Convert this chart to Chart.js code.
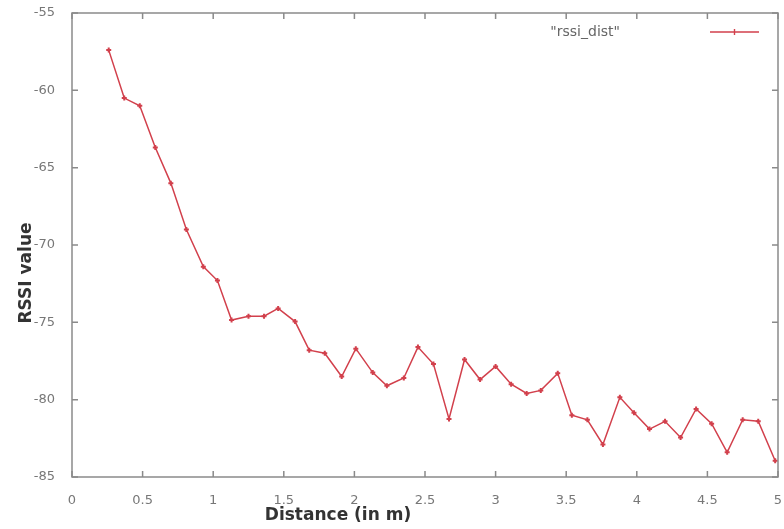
<!DOCTYPE html>
<html>
<head>
<meta charset="utf-8">
<script src="https://cdn.jsdelivr.net/npm/chart.js@4.4.1/dist/chart.umd.min.js"></script>
<style>
	html, body { margin: 0; padding: 0; background: #fff; }
	#wrap { width: 784px; height: 529px; }
</style>
</head>
<body>
<div id="wrap"><canvas id="myChart"></canvas></div>
<script>
const distances = [0.26, 0.37, 0.48, 0.59, 0.70, 0.81, 0.93, 1.03, 1.13, 1.25, 1.36, 1.46, 1.58, 1.68, 1.79, 1.91, 2.01, 2.13, 2.23, 2.35, 2.45, 2.56, 2.67, 2.78, 2.89, 3.00, 3.11, 3.22, 3.32, 3.44, 3.54, 3.65, 3.76, 3.88, 3.98, 4.09, 4.20, 4.31, 4.42, 4.53, 4.64, 4.75, 4.86, 4.98];
const rssi = [-57.4, -60.5, -61.0, -63.7, -66.0, -69.0, -71.4, -72.3, -74.85, -74.6, -74.6, -74.1, -74.95, -76.8, -77.0, -78.5, -76.7, -78.25, -79.1, -78.6, -76.6, -77.7, -81.25, -77.4, -78.7, -77.85, -79.0, -79.6, -79.4, -78.3, -81.0, -81.3, -82.9, -79.85, -80.85, -81.9, -81.4, -82.45, -80.6, -81.55, -83.4, -81.3, -81.4, -83.95];
const seriesName = '"rssi_dist"';
const xTitle = "Distance (in m)";
const yTitle = "RSSI value";

const lineColor = "#d2404c";
const frameColor = "#8a8a8a";
const ctx = document.getElementById("myChart");

// gnuplot style box with inward ticks on all four sides, titles and key
const framePlugin = {
	id: "frame",
	afterDraw(chart) {
		const c = chart.ctx;
		const a = chart.chartArea;
		const xs = chart.scales.x;
		const ys = chart.scales.y;
		c.save();
		c.strokeStyle = frameColor;
		c.lineWidth = 1.5;
		c.strokeRect(a.left, a.top, a.right - a.left, a.bottom - a.top);
		c.beginPath();
		xs.ticks.forEach((t) => {
			const px = xs.getPixelForValue(t.value);
			c.moveTo(px, a.bottom);
			c.lineTo(px, a.bottom - 6);
			c.moveTo(px, a.top);
			c.lineTo(px, a.top + 6);
		});
		ys.ticks.forEach((t) => {
			const py = ys.getPixelForValue(t.value);
			c.moveTo(a.left, py);
			c.lineTo(a.left + 6, py);
			c.moveTo(a.right, py);
			c.lineTo(a.right - 6, py);
		});
		c.stroke();

		c.fillStyle = "#333";
		c.font = "bold 17px 'DejaVu Sans'";
		c.textAlign = "center";
		c.textBaseline = "middle";
		c.fillText(xTitle, 338, 516);
		c.translate(27, 273);
		c.rotate(-Math.PI / 2);
		c.fillText(yTitle, 0, 0);
		c.setTransform(1, 0, 0, 1, 0, 0);

		// key
		c.fillStyle = "#666";
		c.font = "14px 'DejaVu Sans'";
		c.textAlign = "right";
		c.fillText(seriesName, 620, 32);
		c.strokeStyle = lineColor;
		c.lineWidth = 1.4;
		c.beginPath();
		c.moveTo(710, 32);
		c.lineTo(759, 32);
		c.moveTo(734.5, 29);
		c.lineTo(734.5, 35);
		c.stroke();
		c.restore();
	},
};

const myChart = new Chart(ctx, {
	type: "line",
	data: {
		datasets: [
			{
				label: seriesName,
				data: distances.map((d, i) => ({ x: d, y: rssi[i] })),
				borderColor: lineColor,
				backgroundColor: lineColor,
				borderWidth: 1.5,
				pointStyle: "cross",
				pointRadius: 2.5,
				pointBorderWidth: 2,
				tension: 0,
			},
		],
	},
	options: {
		responsive: true,
		maintainAspectRatio: false,
		animation: false,
		layout: { padding: { top: 13, right: 4, left: 0, bottom: 0 } },
		plugins: {
			legend: { display: false },
			tooltip: { enabled: false },
		},
		scales: {
			x: {
				type: "linear",
				min: 0,
				max: 5,
				grid: { display: false },
				border: { display: false },
				ticks: {
					stepSize: 0.5,
					padding: 8,
					color: "#777",
					font: { family: "DejaVu Sans", size: 13 },
					maxRotation: 0,
					callback: (v) => String(v),
				},
				afterFit: (scale) => {
					scale.height = 52;
					scale.paddingLeft = 0;
					scale.paddingRight = 0;
				},
			},
			y: {
				min: -85,
				max: -55,
				grid: { display: false },
				border: { display: false },
				ticks: {
					stepSize: 5,
					padding: 9,
					color: "#777",
					font: { family: "DejaVu Sans", size: 13 },
				},
				afterFit: (scale) => {
					scale.width = 72;
					scale.paddingTop = 0;
					scale.paddingBottom = 0;
				},
			},
		},
	},
	plugins: [framePlugin],
});
</script>
</body>
</html>
